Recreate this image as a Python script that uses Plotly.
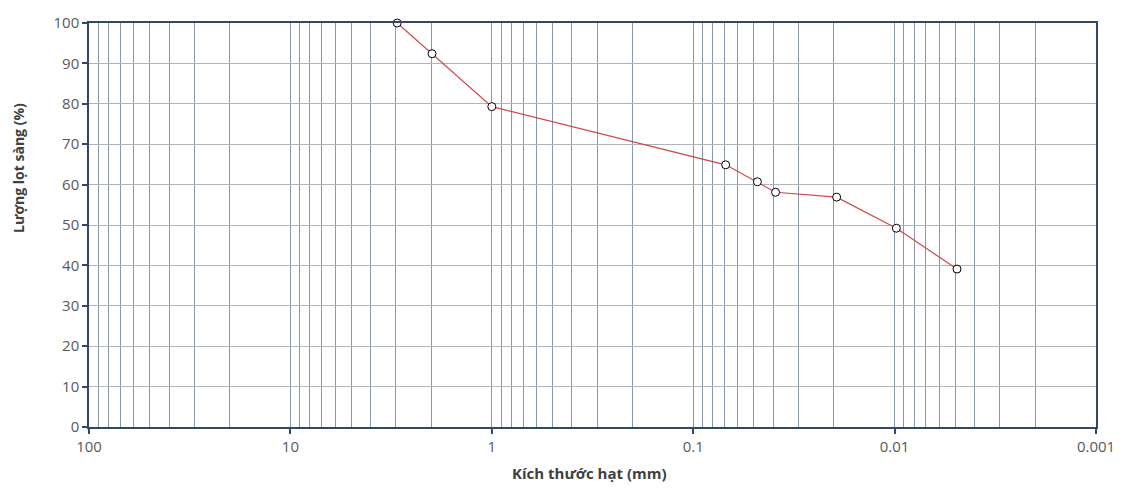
import plotly.graph_objects as go

# Data
grain_size_mm = [2.95, 1.98, 1.0, 0.069, 0.048, 0.039, 0.0194, 0.0098, 0.0049]
passing_pct = [100.0, 92.4, 79.3, 64.9, 60.7, 58.1, 56.9, 49.2, 39.1]

major_ticks = [100, 10, 1, 0.1, 0.01, 0.001]
major_labels = ["100", "10", "1", "0.1", "0.01", "0.001"]
minor_ticks = [m * d for d in [10, 1, 0.1, 0.01, 0.001] for m in range(2, 10)]
y_ticks = list(range(0, 101, 10))

x_title = "Kích thước hạt (mm)"
y_title = "Lượng lọt sàng (%)"

axis_col = "#34476a"
vgrid_col = "#8596ad"
hgrid_col = "#b0b5bd"
tick_font = dict(family="Open Sans", size=15, color="#595959")

fig = go.Figure()
fig.add_trace(go.Scatter(
    x=grain_size_mm, y=passing_pct, mode="lines+markers",
    line=dict(color="#d0464a", width=1.2),
    marker=dict(symbol="circle", size=8, color="white",
                line=dict(color="black", width=1)),
    showlegend=False, cliponaxis=False,
))

fig.update_layout(
    width=1135, height=491,
    margin=dict(l=89, r=39, t=18, b=64),
    paper_bgcolor="white", plot_bgcolor="white",
    xaxis=dict(
        type="log", range=[2, -3], tickmode="array",
        tickvals=major_ticks, ticktext=major_labels,
        ticks="outside", ticklen=5, tickcolor=axis_col, tickwidth=1.5,
        showgrid=True, gridcolor=vgrid_col, gridwidth=1.4,
        minor=dict(tickmode="array", tickvals=minor_ticks, showgrid=True,
                   gridcolor=vgrid_col, gridwidth=1.4, ticks=""),
        showline=True, linecolor=axis_col, linewidth=1.5, mirror=True,
        tickfont=tick_font, zeroline=False,
    ),
    yaxis=dict(
        range=[0, 100], tickmode="array", tickvals=y_ticks,
        ticks="outside", ticklen=5, tickcolor=axis_col, tickwidth=1.5,
        showgrid=True, gridcolor=hgrid_col, gridwidth=1.4,
        showline=True, linecolor=axis_col, linewidth=1.5, mirror=True,
        tickfont=tick_font, zeroline=False,
    ),
    annotations=[
        dict(text="<b>" + x_title + "</b>", xref="paper", yref="paper",
             x=0.497, y=-0.115, xanchor="center", yanchor="middle", showarrow=False,
             font=dict(family="Open Sans", size=15, color="#404040")),
        dict(text="<b>" + y_title + "</b>", xref="paper", yref="paper",
             x=-0.07, y=0.64, xanchor="center", yanchor="middle", showarrow=False,
             textangle=-90,
             font=dict(family="Open Sans", size=14, color="#404040")),
    ],
)

fig.write_html("out.html")
